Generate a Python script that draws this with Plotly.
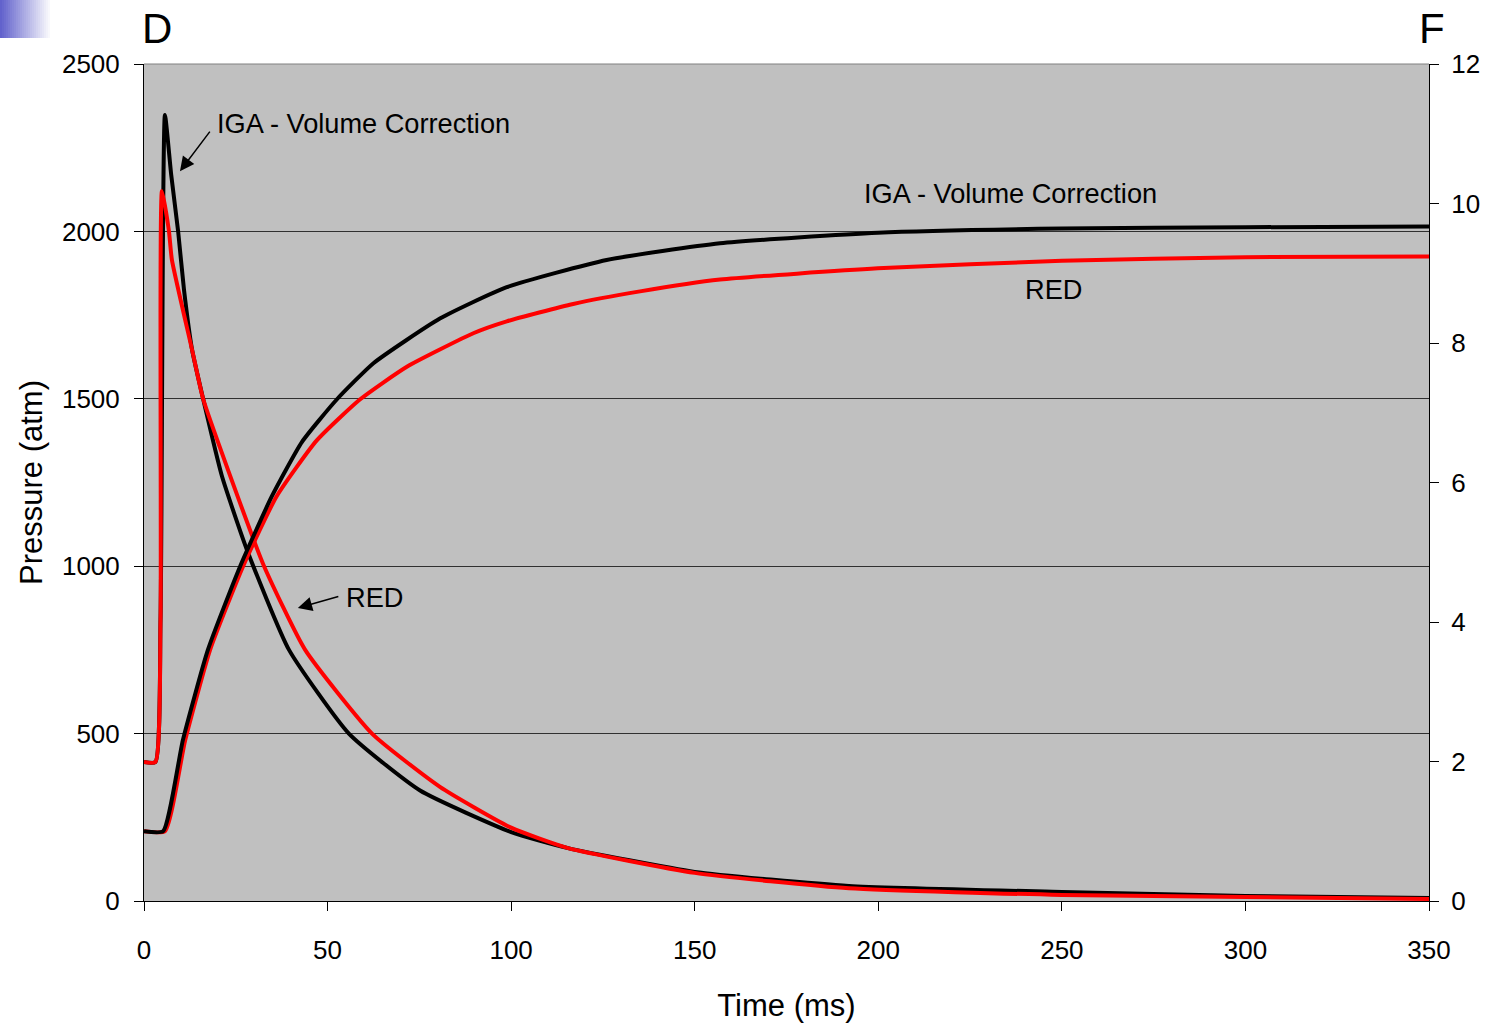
import plotly.graph_objects as go

# ---- Pressure traces (left axis, atm) ----
t_press_iga = [0, 3.1, 4.5, 5.7, 7.4, 9.3, 10.9, 13.1, 16.1, 21.2, 28.0, 39.5, 55.8,
               75.2, 100, 115.5, 150, 192, 250, 300, 350]
p_iga = [415, 415, 840, 2348, 2170, 2000, 1825, 1646, 1500, 1270, 1050, 750, 500,
         330, 206, 158, 87, 45, 27, 15, 9]

t_press_red = [0, 3.1, 4.5, 4.9, 6.8, 7.6, 13.1, 16.1, 22.9, 32.7, 43.9, 62.1,
               80.6, 100, 115.5, 150, 192, 250, 300, 350]
p_red = [415, 415, 840, 2121, 2000, 1915, 1646, 1500, 1287, 1000, 750, 500,
         341, 219, 158, 84, 38, 18, 12, 6]

# ---- Force traces (right axis) ----
t_force_iga = [0, 5.2, 10.6, 17.4, 26.2, 34.8, 43.0, 52.5, 62.5, 80.6, 98.8,
               126.0, 156.9, 199.9, 250, 300, 350]
f_iga = [1.0, 1.0, 2.31, 3.60, 4.80, 5.80, 6.58, 7.19, 7.71, 8.35, 8.80,
         9.19, 9.43, 9.58, 9.64, 9.66, 9.67]

t_force_red = [0, 5.7, 11.2, 18.0, 27.0, 36.1, 47.0, 58.8, 71.6, 89.7, 98.8,
               116.9, 135.1, 156.9, 199.9, 250, 300, 350]
f_red = [1.0, 1.0, 2.30, 3.60, 4.80, 5.80, 6.60, 7.19, 7.66, 8.14, 8.31,
         8.56, 8.74, 8.91, 9.07, 9.18, 9.23, 9.24]

x_ticks = [0, 50, 100, 150, 200, 250, 300, 350]
y_ticks = [0, 500, 1000, 1500, 2000, 2500]
y2_ticks = [0, 2, 4, 6, 8, 10, 12]

FONT = "Liberation Sans, Arial, sans-serif"
W, H = 1491, 1025
ML, MR, MT, MB = 144, 62, 64, 124
PW, PH = W - ML - MR, H - MT - MB


def px_to_paper(px, py):
    return (px - ML) / PW, 1 - (py - MT) / PH


fig = go.Figure()

smooth = dict(shape="spline", smoothing=0.5)
fig.add_trace(go.Scatter(x=t_press_iga, y=p_iga, mode="lines",
                         line=dict(color="black", width=4, **smooth), yaxis="y",
                         name="IGA - Volume Correction", showlegend=False))
fig.add_trace(go.Scatter(x=t_press_red, y=p_red, mode="lines",
                         line=dict(color="#ff0000", width=4, **smooth), yaxis="y",
                         name="RED", showlegend=False))
fig.add_trace(go.Scatter(x=t_force_red, y=f_red, mode="lines",
                         line=dict(color="#ff0000", width=4, **smooth), yaxis="y2",
                         name="RED", showlegend=False))
fig.add_trace(go.Scatter(x=t_force_iga, y=f_iga, mode="lines",
                         line=dict(color="black", width=4, **smooth), yaxis="y2",
                         name="IGA - Volume Correction", showlegend=False))

shapes = []
# small blue fade square in the page corner
n = 26
for i in range(n):
    f = i / (n - 1)
    r = int(98 + (255 - 98) * f)
    g = int(98 + (255 - 98) * f)
    b = int(204 + (255 - 204) * f)
    x0, y0 = px_to_paper(i * 2, 0)
    x1, y1 = px_to_paper(i * 2 + 2, 38)
    shapes.append(dict(type="rect", xref="paper", yref="paper",
                       x0=x0, x1=x1, y0=y1, y1=y0, line=dict(width=0),
                       fillcolor=f"rgb({r},{g},{b})", layer="above"))
# grey top border of the plot area
shapes.append(dict(type="line", xref="paper", yref="paper", x0=0, x1=1,
                   y0=1, y1=1, line=dict(color="#808080", width=1)))

annotations = []
for txt, px in (("D", 157), ("F", 1432)):
    ax_, ay_ = px_to_paper(px, 28)
    annotations.append(dict(text=txt, xref="paper", yref="paper", x=ax_, y=ay_,
                            xanchor="center", yanchor="middle", showarrow=False,
                            font=dict(family=FONT, size=42, color="black")))

lab_font = dict(family=FONT, size=27.2, color="black")
annotations += [
    dict(text="IGA - Volume Correction", x=19.3, y=2321, xref="x", yref="y",
         xanchor="left", yanchor="middle", showarrow=False, font=lab_font),
    dict(text="IGA - Volume Correction", x=195.6, y=2112, xref="x", yref="y",
         xanchor="left", yanchor="middle", showarrow=False, font=lab_font),
    dict(text="RED", x=239.4, y=1825, xref="x", yref="y",
         xanchor="left", yanchor="middle", showarrow=False, font=lab_font),
    dict(text="RED", x=54.5, y=908, xref="x", yref="y",
         xanchor="left", yanchor="middle", showarrow=False, font=lab_font),
    # arrows
    dict(text="", x=9.8, y=2180, xref="x", yref="y", showarrow=True,
         ax=31, ay=-41, arrowhead=2, arrowsize=1.9, arrowwidth=1.5,
         arrowcolor="black"),
    dict(text="", x=41.9, y=875, xref="x", yref="y", showarrow=True,
         ax=42, ay=-12, arrowhead=2, arrowsize=1.9, arrowwidth=1.5,
         arrowcolor="black"),
]

tick_font = dict(family=FONT, size=26, color="black")
title_font = dict(family=FONT, size=31, color="black")

fig.update_layout(
    template="none",
    width=W, height=H,
    margin=dict(l=ML, r=MR, t=MT, b=MB, pad=0, autoexpand=False),
    paper_bgcolor="white", plot_bgcolor="#c0c0c0",
    font=dict(family=FONT, color="black"),
    showlegend=False,
    xaxis=dict(range=[0, 350], tickvals=x_ticks, ticks="outside", ticklen=9,
               tickwidth=1, tickcolor="black", showline=True, linecolor="black",
               linewidth=1, showgrid=False, zeroline=False, tickfont=tick_font,
               ticklabelstandoff=17, automargin=False,
               title=dict(text="Time (ms)", font=title_font, standoff=30)),
    xaxis2=dict(range=[0, 350], overlaying="x", anchor="y", side="bottom",
                tickvals=x_ticks, ticks="inside", ticklen=9, tickwidth=1,
                tickcolor="black", showticklabels=False, showline=False,
                showgrid=False, zeroline=False, automargin=False),
    yaxis=dict(range=[0, 2500], tickvals=y_ticks, ticks="outside", ticklen=9,
               tickwidth=1, tickcolor="black", showline=True, linecolor="black",
               linewidth=1, showgrid=True, gridcolor="#303030", gridwidth=1,
               zeroline=False, tickfont=tick_font, ticklabelstandoff=9,
               automargin=False,
               title=dict(text="Pressure (atm)", font=title_font, standoff=10)),
    yaxis2=dict(range=[0, 12], tickvals=y2_ticks, overlaying="y", side="right",
                anchor="x", ticks="outside", ticklen=9, tickwidth=1,
                tickcolor="black", showline=True, linecolor="black", linewidth=1,
                showgrid=False, zeroline=False, tickfont=tick_font,
                ticklabelstandoff=7, automargin=False),
    yaxis3=dict(range=[0, 12], tickvals=y2_ticks, overlaying="y", side="right",
                anchor="x", ticks="inside", ticklen=9, tickwidth=1,
                tickcolor="black", showticklabels=False, showline=False,
                showgrid=False, zeroline=False, automargin=False),
    shapes=shapes,
    annotations=annotations,
)

fig.write_html("out.html")
